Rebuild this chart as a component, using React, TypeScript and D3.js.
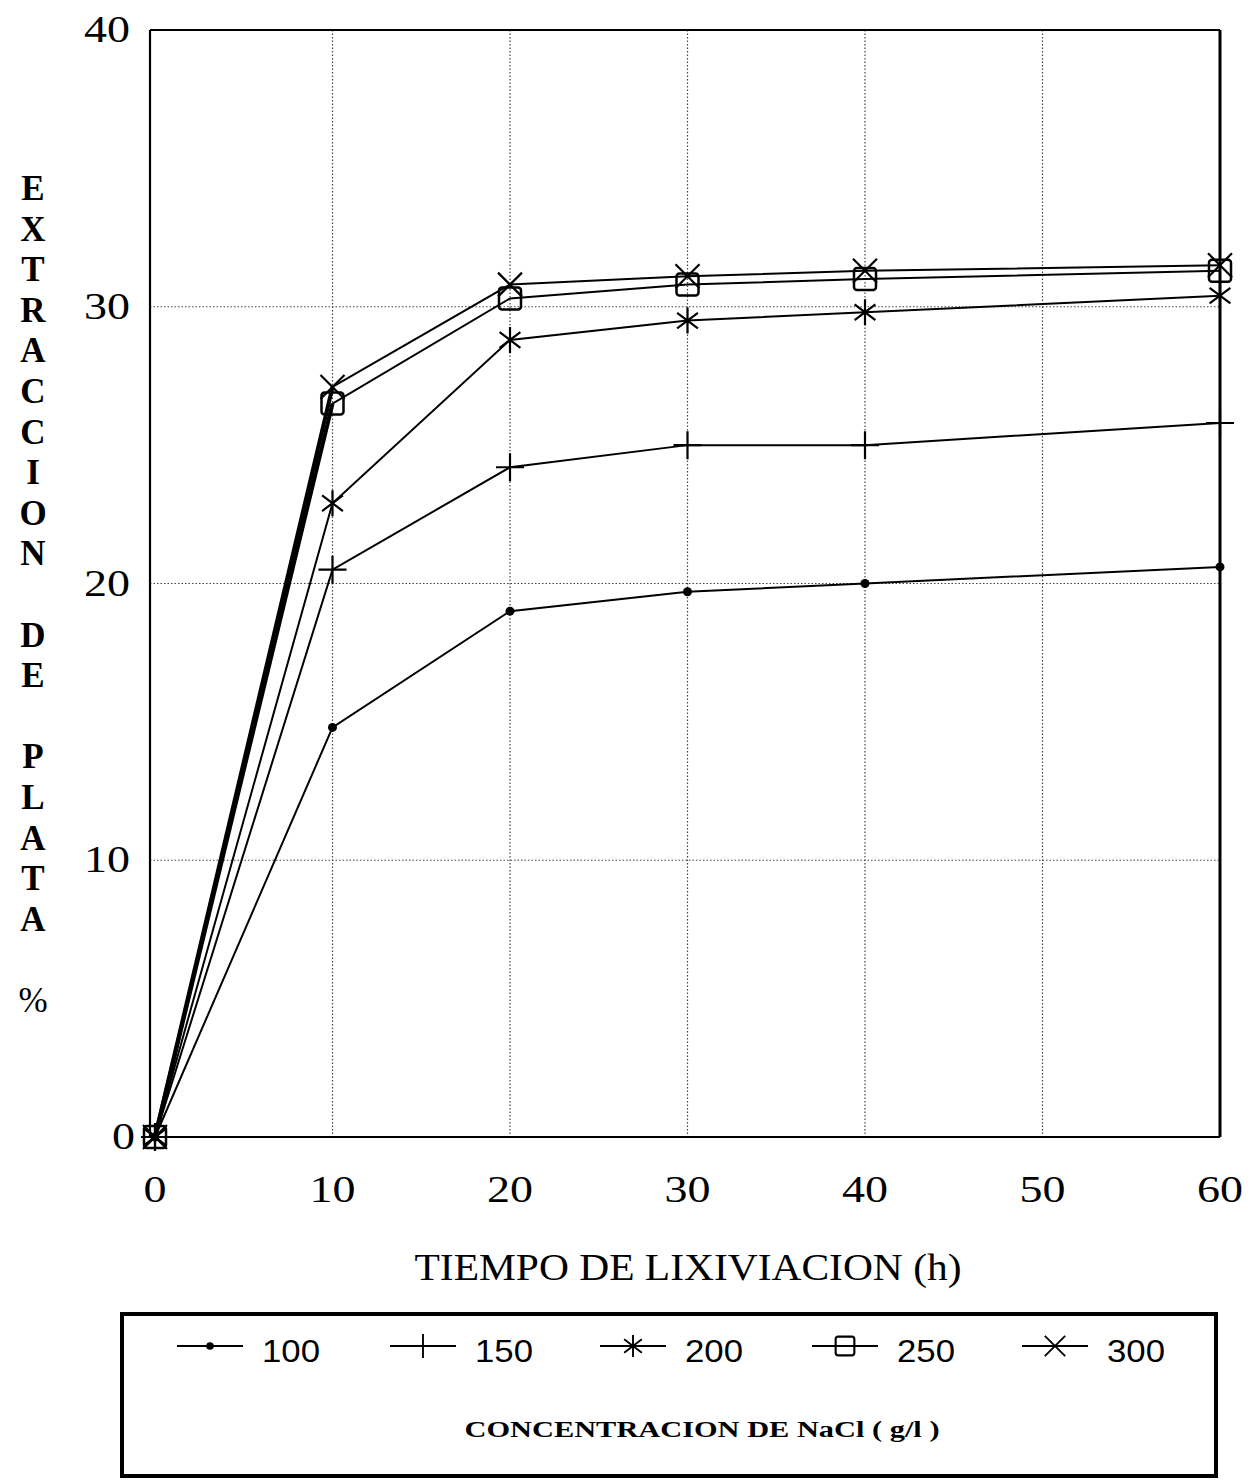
import React from "react";
import * as d3 from "d3";

const times = [0, 10, 20, 30, 40, 60];
const seriesNames = ["100", "150", "200", "250", "300"];
const s100 = [0, 14.8, 19.0, 19.7, 20.0, 20.6];
const s150 = [0, 20.5, 24.2, 25.0, 25.0, 25.8];
const s200 = [0, 22.9, 28.8, 29.5, 29.8, 30.4];
const s250 = [0, 26.5, 30.3, 30.8, 31.0, 31.3];
const s300 = [0, 27.1, 30.8, 31.1, 31.3, 31.5];
const seriesValues = [s100, s150, s200, s250, s300];
const markerTypes = ["dot", "plus", "asterisk", "square", "cross"];
const xTicks = [0, 10, 20, 30, 40, 50, 60];
const yTicks = [0, 10, 20, 30, 40];
const yTitleLetters = "EXTRACCION DE PLATA %".split("");

const W = 1251, H = 1483;
const x = d3.scaleLinear().domain([0, 60]).range([155, 1220]);
const y = d3.scaleLinear().domain([0, 40]).range([1137, 30]);

function Marker({ type, cx, cy }: { type: string; cx: number; cy: number }) {
  const sw = 2.2;
  if (type === "dot") return <circle cx={cx} cy={cy} r={4.5} fill="#000" />;
  if (type === "plus") {
    const r = 14;
    return (
      <path d={`M${cx - r},${cy}H${cx + r}M${cx},${cy - r}V${cy + r}`} stroke="#000" strokeWidth={sw} fill="none" />
    );
  }
  if (type === "asterisk") {
    const r = 13;
    const a = r * 0.8;
    return (
      <path
        d={`M${cx},${cy - r}V${cy + r}M${cx - a},${cy - a * 0.75}L${cx + a},${cy + a * 0.75}M${cx - a},${cy + a * 0.75}L${cx + a},${cy - a * 0.75}`}
        stroke="#000" strokeWidth={sw} fill="none"
      />
    );
  }
  if (type === "square") {
    const s = 22;
    return <rect x={cx - s / 2} y={cy - s / 2} width={s} height={s} rx={3} fill="none" stroke="#000" strokeWidth={2.5} />;
  }
  const r = 12;
  return (
    <path d={`M${cx - r},${cy - r}L${cx + r},${cy + r}M${cx - r},${cy + r}L${cx + r},${cy - r}`} stroke="#000" strokeWidth={sw} fill="none" />
  );
}

export default function App() {
  const line = d3.line<[number, number]>().x((d) => x(d[0])).y((d) => y(d[1]));
  const serif = "'Liberation Serif', 'DejaVu Serif', serif";
  const sans = "'Liberation Sans', Arial, sans-serif";
  const legendX = [177, 390, 600, 812, 1022];
  return (
    <svg width={W} height={H} style={{ position: "absolute", left: 0, top: 0, background: "#fff" }}>
      <rect width={W} height={H} fill="#fff" />
      {/* grid */}
      {xTicks.filter((t) => t > 0 && t < 60).map((t) => (
        <line key={"gx" + t} x1={x(t)} x2={x(t)} y1={y(40)} y2={y(0)} stroke="#444" strokeWidth={1.2} strokeDasharray="1.5,2" />
      ))}
      {yTicks.filter((t) => t > 0 && t < 40).map((t) => (
        <line key={"gy" + t} x1={x(0) - 5} x2={x(60)} y1={y(t)} y2={y(t)} stroke="#444" strokeWidth={1.2} strokeDasharray="1.5,2" />
      ))}
      {/* frame */}
      <line x1={x(0) - 5} x2={x(60)} y1={y(40)} y2={y(40)} stroke="#000" strokeWidth={2.2} />
      <line x1={x(0) - 5} x2={x(0) - 5} y1={y(40)} y2={y(0)} stroke="#000" strokeWidth={2.2} />
      <line x1={x(60)} x2={x(60)} y1={y(40)} y2={y(0)} stroke="#000" strokeWidth={3} />
      <line x1={x(0) - 5} x2={x(60)} y1={y(0)} y2={y(0)} stroke="#000" strokeWidth={2} />
      {/* series */}
      {seriesValues.map((vals, i) => {
        const pts: [number, number][] = times.map((t, j) => [t, vals[j]]);
        const thickFirst = i >= 3;
        return (
          <g key={"s" + i}>
            <path d={line(pts) || ""} fill="none" stroke="#000" strokeWidth={2} />
            {thickFirst && <path d={line(pts.slice(0, 2)) || ""} fill="none" stroke="#000" strokeWidth={4} />}
            {pts.map((p, j) => (
              <Marker key={j} type={markerTypes[i]} cx={x(p[0])} cy={y(p[1])} />
            ))}
          </g>
        );
      })}
      {/* tick labels */}
      {yTicks.map((t) => (
        <text key={"yl" + t} x={t === 0 ? 135 : 130} y={y(t) + 12} textAnchor="end" fontFamily={serif} fontSize={38}
          textLength={String(t).length * 23} lengthAdjust="spacingAndGlyphs">
          {t}
        </text>
      ))}
      {xTicks.map((t) => (
        <text key={"xl" + t} x={x(t)} y={1202} textAnchor="middle" fontFamily={serif} fontSize={38}
          textLength={String(t).length * 23} lengthAdjust="spacingAndGlyphs">
          {t}
        </text>
      ))}
      {/* axis titles */}
      <text x={688} y={1280} textAnchor="middle" fontFamily={serif} fontSize={37} textLength={547} lengthAdjust="spacingAndGlyphs">
        TIEMPO DE LIXIVIACION (h)
      </text>
      {yTitleLetters.map((c, i) =>
        c === " " ? null : (
          <text key={"yt" + i} x={33} y={188 + i * 40.6 + 12} textAnchor="middle" fontFamily={serif} fontSize={35}
            fontWeight={c === "%" ? "normal" : "bold"}>
            {c}
          </text>
        )
      )}
      {/* legend */}
      <rect x={122} y={1314} width={1094} height={162} fill="none" stroke="#000" strokeWidth={4} />
      {seriesNames.map((n, i) => {
        const lx = legendX[i];
        const cy = 1346;
        return (
          <g key={"lg" + i}>
            <line x1={lx} x2={lx + 66} y1={cy} y2={cy} stroke="#000" strokeWidth={2} />
            <g transform={`translate(${lx + 33},${cy}) scale(0.85)`}>
              <Marker type={markerTypes[i]} cx={0} cy={0} />
            </g>
            <text x={lx + 85} y={1362} fontFamily={sans} fontSize={32} textLength={58} lengthAdjust="spacingAndGlyphs">
              {n}
            </text>
          </g>
        );
      })}
      <text x={702} y={1437} textAnchor="middle" fontFamily={serif} fontSize={23} fontWeight="bold" textLength={475} lengthAdjust="spacingAndGlyphs">
        CONCENTRACION DE NaCl ( g/l )
      </text>
    </svg>
  );
}
